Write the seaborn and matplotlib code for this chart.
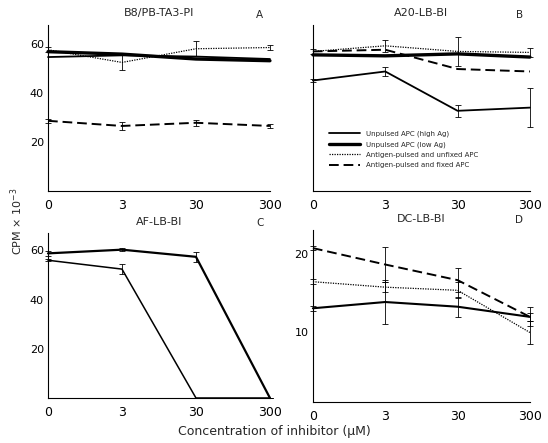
import numpy as np
import pandas as pd
import matplotlib
matplotlib.use("Agg")
import matplotlib.pyplot as plt
import seaborn as sns

sns.set_theme(style="white")
plt.rcParams['font.family'] = ['DejaVu Sans']

conc_labels = ["0", "3", "30", "300"]
series_names = ["Unpulsed APC (high Ag)", "Unpulsed APC (low Ag)",
                "Antigen-pulsed and unfixed APC", "Antigen-pulsed and fixed APC"]

# Panel A: B8/PB-TA3-PI
a_high = [54.8, 55.5, 55.0, 54.0]
a_low = [57.0, 56.0, 54.0, 53.3]
a_unfixed = [57.8, 52.6, 58.2, 58.7]
a_fixed = [28.7, 26.6, 27.9, 26.6]
a_err_unfixed = [1.0, 3.0, 3.0, 1.2]
a_err_fixed = [0.8, 1.5, 1.2, 0.8]

# Panel B: A20-LB-BI
b_high = [45.2, 48.9, 32.8, 34.1]
b_low = [55.7, 55.3, 56.1, 54.8]
b_unfixed = [57.1, 59.4, 57.1, 56.7]
b_fixed = [57.1, 57.8, 49.9, 48.9]
b_err_high = [0.5, 2.0, 2.5, 8.0]
b_err_unfixed = [1.0, 2.5, 6.0, 2.0]

# Panel C: AF-LB-BI
c_high = [58.8, 60.3, 57.4, 0.0]
c_low = [56.0, 52.4, 0.0, 0.0]
c_err_high = [1.0, 0.5, 2.0, 0.0]
c_err_low = [0.5, 2.0, 0.0, 0.0]

# Panel D: DC-LB-BI
d_high = [13.0, 13.8, 13.2, 11.9]
d_unfixed = [16.4, 15.7, 15.3, 9.9]
d_fixed = [20.7, 18.6, 16.6, 11.9]
d_err_high = [0.3, 2.8, 1.3, 0.5]
d_err_unfixed = [0.3, 0.6, 1.0, 1.5]
d_err_fixed = [0.3, 2.2, 1.5, 1.2]

styles = {
    series_names[0]: dict(linestyle="-", linewidth=1.3),
    series_names[1]: dict(linestyle="-", linewidth=2.4),
    series_names[2]: dict(linestyle=(0, (1, 1)), linewidth=0.9),
    series_names[3]: dict(linestyle=(0, (5, 2.5)), linewidth=1.4),
}

fig = plt.figure(figsize=(5.48, 4.43), dpi=100)
axA = fig.add_axes([0.0876, 0.569, 0.405, 0.375])
axB = fig.add_axes([0.571, 0.569, 0.396, 0.375])
axC = fig.add_axes([0.0876, 0.1016, 0.405, 0.372])
axD = fig.add_axes([0.571, 0.0925, 0.396, 0.388])

xpos = np.arange(len(conc_labels))


def draw(ax, name, vals, err=None, lw=None):
    df = pd.DataFrame({"x": xpos, "y": vals})
    st = styles[name]
    sns.lineplot(data=df, x="x", y="y", ax=ax, color="black",
                 linestyle=st["linestyle"], linewidth=lw if lw else st["linewidth"],
                 label=name, clip_on=False)
    if err is not None:
        cont = ax.errorbar(xpos, vals, yerr=err, fmt="none", ecolor="black",
                           elinewidth=0.6, capsize=2, capthick=0.6)
        for child in cont.get_children():
            child.set_clip_on(False)


panels = [
    (axA, "B8/PB-TA3-PI", "A", [(series_names[0], a_high, None, None), (series_names[1], a_low, None, None),
                                 (series_names[2], a_unfixed, a_err_unfixed, None),
                                 (series_names[3], a_fixed, a_err_fixed, None)], (0, 68), [20, 40, 60], True),
    (axB, "A20-LB-BI", "B", [(series_names[0], b_high, b_err_high, None), (series_names[1], b_low, None, None),
                              (series_names[2], b_unfixed, b_err_unfixed, None),
                              (series_names[3], b_fixed, None, None)], (0, 68), [20, 40, 60], False),
    (axC, "AF-LB-BI", "C", [(series_names[0], c_high, c_err_high, 1.6),
                             (series_names[1], c_low, c_err_low, 1.1)], (0, 67), [20, 40, 60], True),
    (axD, "DC-LB-BI", "D", [(series_names[0], d_high, d_err_high, 1.5),
                             (series_names[2], d_unfixed, d_err_unfixed, None),
                             (series_names[3], d_fixed, d_err_fixed, None)], (1, 23), [10, 20], True),
]

for ax, title, letter, series, ylim, yticks, show_ylabels in panels:
    for name, vals, err, lw in series:
        draw(ax, name, vals, err, lw)
    ax.set_xlim(0, 3)
    ax.set_ylim(*ylim)
    ax.set_xticks(xpos)
    ax.set_xticklabels(conc_labels, fontsize=9)
    ax.set_yticks(yticks)
    if show_ylabels:
        ax.set_yticklabels([str(t) for t in yticks], fontsize=8)
    else:
        ax.set_yticklabels([])
    ax.tick_params(axis="both", direction="in", length=4, width=0.8, pad=3, colors="black")
    ax.tick_params(axis="x", pad=6)
    for s in ["top", "right"]:
        ax.spines[s].set_visible(False)
    for s in ["left", "bottom"]:
        ax.spines[s].set_color("black")
        ax.spines[s].set_linewidth(0.8)
    ax.set_xlabel("")
    ax.set_ylabel("")
    ax.set_facecolor("white")
    ax.set_title(title, fontsize=8, pad=6)
    ax.text(0.97, 1.03, letter, transform=ax.transAxes, fontsize=7.5, ha="right", va="bottom")
    leg = ax.get_legend()
    if leg is not None:
        leg.remove()

handles, labels = axB.get_legend_handles_labels()
axB.legend(handles, labels, loc="upper left", bbox_to_anchor=(0.06, 0.38), frameon=False,
           fontsize=5, handlelength=4.5, labelspacing=0.6, borderaxespad=0)

fig.text(0.015, 0.5, "CPM \u00d7 10$^{-3}$", rotation=90, fontsize=8, ha="left", va="center")
fig.text(0.5, 0.012, "Concentration of inhibitor (\u03bcM)", fontsize=9, ha="center", va="bottom")

fig.savefig("out.png", dpi=100, facecolor="white")
